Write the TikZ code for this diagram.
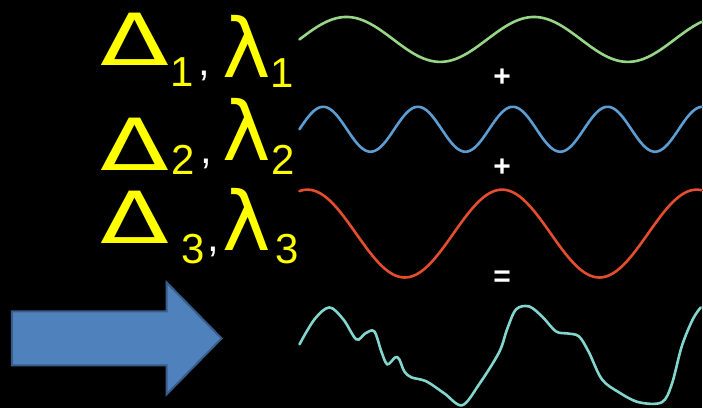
\documentclass[tikz,border=0pt]{standalone}
\usepackage{fontspec}
\setmainfont{Liberation Sans}
\newfontfamily\grk{DejaVu Sans}
\usepackage{tikz}
\usetikzlibrary{arrows.meta}
\definecolor{wgreen}{RGB}{150,214,134}
\definecolor{wblue}{RGB}{92,158,212}
\definecolor{wred}{RGB}{228,78,46}
\definecolor{wcyan}{RGB}{130,214,206}
\definecolor{abody}{RGB}{79,129,189}
\definecolor{aedge}{RGB}{56,93,138}
\definecolor{gold}{RGB}{255,255,0}

\begin{document}
\begin{tikzpicture}[x=1pt,y=-1pt,
  delta/.style={gold,inner sep=0pt,xscale=1.4,font=\grk\fontsize{72}{72}\selectfont},
  lam/.style={gold,inner sep=0pt,font=\grk\fontsize{82}{82}\selectfont},
  idx/.style={gold,inner sep=0pt,font=\fontsize{42}{42}\selectfont},
  sep/.style={white,inner sep=0pt,font=\fontsize{42}{42}\selectfont},
  op/.style={white,inner sep=0pt,font=\fontsize{30}{30}\selectfont\bfseries},
  wave/.style={line width=2.6pt,line cap=round}]
\fill[black] (0,0) rectangle (703,409);
% labels
\node[delta] (d1) at (135,39) {Δ};
\node[idx] (i1) at (182,72) {1};
\node[sep] (c1) at (205,76) {,};
\node[lam] (l1) at (247,46) {λ};
\node[idx] (j1) at (283,73) {1};
\node[delta] (d2) at (135,145) {Δ};
\node[idx] (i2) at (183,160) {2};
\node[sep] (c2) at (207,164) {,};
\node[lam] (l2) at (247,130) {λ};
\node[idx] (j2) at (284,160) {2};
\node[delta] (d3) at (135,218) {Δ};
\node[idx] (i3) at (194,250) {3};
\node[sep] (c3) at (214,252) {,};
\node[lam] (l3) at (247,220) {λ};
\node[idx] (j3) at (288,250) {3};
% arrow
\draw[fill=abody,draw=aedge,line width=2pt,line join=miter]
  (12,312) -- (167,312) -- (167,283) -- (222,339) -- (167,395) -- (167,366) -- (12,366) -- cycle;
% waves
\draw[wave,wgreen] plot[domain=0:403,samples=200,smooth] (\x+300,{39.5-22.5*sin(1.9149*\x)});
\draw[wave,wblue] plot[domain=0:403,samples=300,smooth] (\x+300,{129.5-22.5*sin(3.7895*\x)});
\draw[wave,wred] plot[domain=0:403,samples=200,smooth] (\x+300,{234-44*cos(1.8462*(\x-203))});
\draw[wave,wcyan] plot[smooth,tension=0.55] coordinates {
  (300,345) (315,320) (330,308) (344,320) (357,340) (366,334) (375,332)
  (382,352) (388,365) (396,358) (400,360) (405,372) (412,378) (427,382)
  (445,394) (463,406) (480,385) (500,353) (508,330) (517,310) (530,307)
  (543,317) (557,332) (568,334) (580,337) (590,353) (603,380) (620,393)
  (640,403) (663,403) (673,385) (683,347) (694,320) (702,308)};
\node[op] (p1) at (503,78) {+};
\node[op] (p2) at (503,168) {+};
\node[op] (eq) at (503,279) {=};
\end{tikzpicture}
\end{document}
